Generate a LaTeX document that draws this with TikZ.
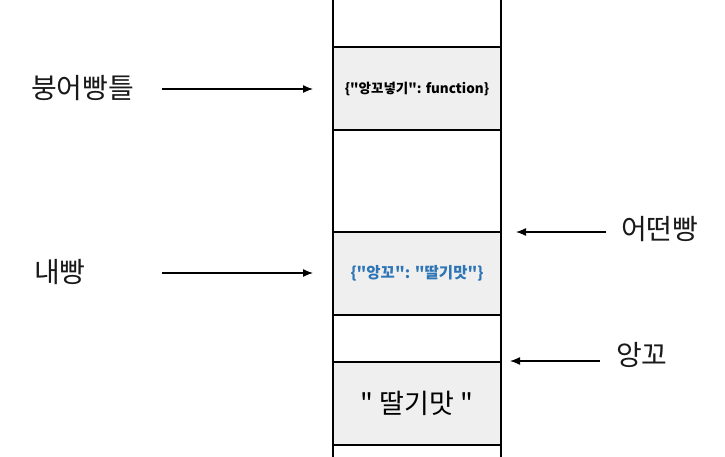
\documentclass[tikz,border=0pt]{standalone}
\usepackage{fontspec}
\newfontfamily\krfont{Noto Sans CJK KR}
\usetikzlibrary{arrows.meta, positioning}
\definecolor{cellgray}{RGB}{239,239,239}
\definecolor{keyblue}{RGB}{46,117,182}
\tikzstyle{cell} = [rectangle, minimum width=168pt, minimum height=83pt, text centered, draw=black, line width=2.6pt, fill=cellgray, font=\krfont]
\tikzstyle{varname} = [font=\krfont\fontsize{28}{32}\selectfont, inner sep=0pt, text=black!90]
\tikzstyle{edge} = [line width=1.3pt, -{Latex[length=10pt, width=8pt]}]

\begin{document}
\begin{tikzpicture}[x=1pt, y=-1pt]
\useasboundingbox (0,0) rectangle (725,457);

% memory column
\draw [line width=2.6pt] (333,-2) -- (333,459);
\draw [line width=2.6pt] (501,-2) -- (501,459);

\node (mold) [cell] at (417,88.5) {\fontsize{13.5}{16}\selectfont\bfseries \{"앙꼬넣기": function\}};
\node (bread) [cell] at (417,273.5) {\fontsize{15.5}{18}\selectfont\bfseries\color{keyblue} \{"앙꼬": "딸기맛"\}};
\node (filling) [cell] at (417,403.5) {\fontsize{27}{31}\selectfont " 딸기맛 "};

% names
\node (moldname) [varname, anchor=west] at (31,88) {붕어빵틀};
\node (breadname) [varname, anchor=west] at (34,272) {내빵};
\node (anyname) [varname, anchor=west] at (621,229) {어떤빵};
\node (fillname) [varname, anchor=west] at (616,355) {앙꼬};

\coordinate (moldend) at (313,89);
\coordinate (breadend) at (313,273);
\coordinate (anyend) at (516,232);
\coordinate (fillend) at (510,361);

\draw [edge] (moldname.east) ++(28,1) -- (moldend);
\draw [edge] (breadname.east) ++(76,1) -- (breadend);
\draw [edge] (anyname.west) ++(-15,3) -- (anyend);
\draw [edge] (fillname.west) ++(-16,6) -- (fillend);

\end{tikzpicture}
\end{document}
